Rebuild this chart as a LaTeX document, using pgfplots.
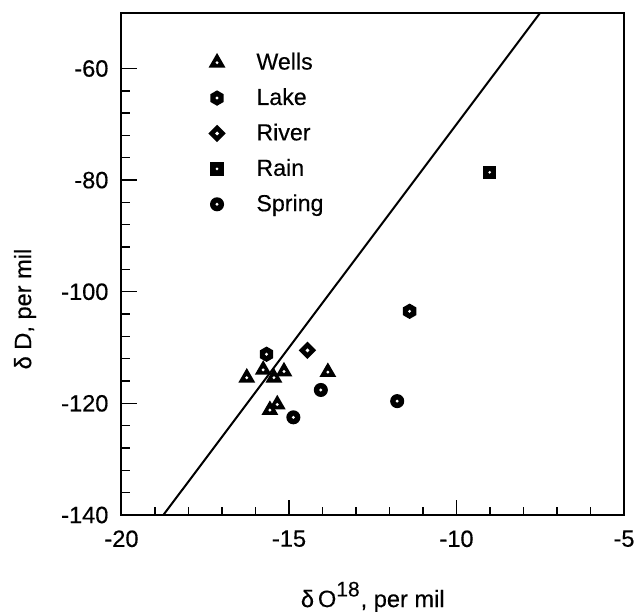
\documentclass[border=0pt]{standalone}
\usepackage{pgfplots}
\pgfplotsset{compat=1.18}
\usepackage{fontspec}
\setmainfont{Liberation Sans}[FakeBold=0.35]

\pgfdeclareplotmark{dtri}{%
 \pgfpathmoveto{\pgfpointpolar{90}{1.45\pgfplotmarksize}}%
 \pgfpathlineto{\pgfpointpolar{210}{1.45\pgfplotmarksize}}%
 \pgfpathlineto{\pgfpointpolar{330}{1.45\pgfplotmarksize}}%
 \pgfpathclose
 \pgfsetfillcolor{black}\pgfusepathqfill
 \pgfpathcircle{\pgfpointorigin}{0.24\pgfplotmarksize}%
 \pgfsetfillcolor{white}\pgfusepathqfill}
\pgfdeclareplotmark{dhex}{%
 \pgfpathmoveto{\pgfpointpolar{90}{1.15\pgfplotmarksize}}%
 \pgfpathlineto{\pgfpointpolar{150}{1.15\pgfplotmarksize}}%
 \pgfpathlineto{\pgfpointpolar{210}{1.15\pgfplotmarksize}}%
 \pgfpathlineto{\pgfpointpolar{270}{1.15\pgfplotmarksize}}%
 \pgfpathlineto{\pgfpointpolar{330}{1.15\pgfplotmarksize}}%
 \pgfpathlineto{\pgfpointpolar{30}{1.15\pgfplotmarksize}}%
 \pgfpathclose
 \pgfsetfillcolor{black}\pgfusepathqfill
 \pgfpathcircle{\pgfpointorigin}{0.24\pgfplotmarksize}%
 \pgfsetfillcolor{white}\pgfusepathqfill}
\pgfdeclareplotmark{ddia}{%
 \pgfpathmoveto{\pgfpointpolar{90}{1.3\pgfplotmarksize}}%
 \pgfpathlineto{\pgfpointpolar{180}{1.3\pgfplotmarksize}}%
 \pgfpathlineto{\pgfpointpolar{270}{1.3\pgfplotmarksize}}%
 \pgfpathlineto{\pgfpointpolar{0}{1.3\pgfplotmarksize}}%
 \pgfpathclose
 \pgfsetfillcolor{black}\pgfusepathqfill
 \pgfpathmoveto{\pgfpointpolar{90}{0.3\pgfplotmarksize}}%
 \pgfpathlineto{\pgfpointpolar{180}{0.3\pgfplotmarksize}}%
 \pgfpathlineto{\pgfpointpolar{270}{0.3\pgfplotmarksize}}%
 \pgfpathlineto{\pgfpointpolar{0}{0.3\pgfplotmarksize}}%
 \pgfpathclose
 \pgfsetfillcolor{white}\pgfusepathqfill}
\pgfdeclareplotmark{dsq}{%
 \pgfpathrectangle{\pgfqpoint{-1.0\pgfplotmarksize}{-1.0\pgfplotmarksize}}{\pgfqpoint{2.0\pgfplotmarksize}{2.0\pgfplotmarksize}}%
 \pgfsetfillcolor{black}\pgfusepathqfill
 \pgfpathcircle{\pgfpointorigin}{0.22\pgfplotmarksize}%
 \pgfsetfillcolor{white}\pgfusepathqfill}
\pgfdeclareplotmark{dcirc}{%
 \pgfpathcircle{\pgfpointorigin}{1.05\pgfplotmarksize}%
 \pgfsetfillcolor{black}\pgfusepathqfill
 \pgfpathcircle{\pgfpointorigin}{0.24\pgfplotmarksize}%
 \pgfsetfillcolor{white}\pgfusepathqfill}

\begin{document}
\begin{tikzpicture}
\begin{axis}[
  scale only axis,
  width=251.25pt, height=251.15pt,
  xmin=-20, xmax=-5, ymin=-140, ymax=-50,
  xtick={-20,-15,-10,-5},
  ytick={-140,-120,-100,-80,-60},
  minor x tick num=4,
  minor y tick num=4,
  tick pos=left,
  tick align=inside,
  major tick length=7.5pt,
  minor tick length=4pt,
  axis line style={line width=1pt},
  every tick/.style={black, line width=0.7pt},
  /pgf/number format/assume math mode=true,
  tick label style={font=\fontsize{11.8}{13}\selectfont},
  yticklabel style={xshift=-3pt},
  xticklabel style={yshift=-4.2pt},
  every axis x label/.style={at={(axis description cs:0.5,-0.163)}, anchor=center},
  every axis y label/.style={at={(axis description cs:-0.192,0.41)}, anchor=center, rotate=90},
  label style={font=\fontsize{11.8}{13}\selectfont},
  xlabel={δ\,O\raisebox{0.85ex}{\fontsize{10.5}{11}\selectfont 18}\kern0.5pt, per mil},
  ylabel={δ D, per mil},
  legend style={draw=none, fill=none, at={(axis description cs:0.172,0.929)}, anchor=north west,
    font=\fontsize{11.6}{13}\selectfont, row sep=3.8pt, inner sep=0pt},
  legend cell align=left,
  legend image code/.code={\draw[#1] plot coordinates {(0pt,0pt)}; \path (-4pt,0pt) (17.5pt,0pt);},
  mark size=3.35pt,
]
\addplot[only marks, mark=dtri] coordinates {
 (-16.26,-115.4) (-15.77,-114.0) (-15.45,-115.4) (-15.15,-114.3)
 (-13.84,-114.4) (-15.35,-120.2) (-15.57,-121.2)};
\addlegendentry{Wells}
\addplot[only marks, mark=dhex] coordinates {(-15.67,-111.2) (-11.4,-103.5)};
\addlegendentry{Lake}
\addplot[only marks, mark=ddia] coordinates {(-14.45,-110.5)};
\addlegendentry{River}
\addplot[only marks, mark=dsq] coordinates {(-9.01,-78.6)};
\addlegendentry{Rain}
\addplot[only marks, mark=dcirc] coordinates {(-14.05,-117.6) (-14.87,-122.5) (-11.77,-119.6)};
\addlegendentry{Spring}
\addplot[black, line width=1pt, forget plot] coordinates {(-18.75,-140) (-7.5,-50)};
\end{axis}
\pgfresetboundingbox
\path ([xshift=-60.75pt,yshift=-48.5pt]current axis.south west) rectangle ([xshift=6pt,yshift=6.35pt]current axis.north east);
\end{tikzpicture}
\end{document}
